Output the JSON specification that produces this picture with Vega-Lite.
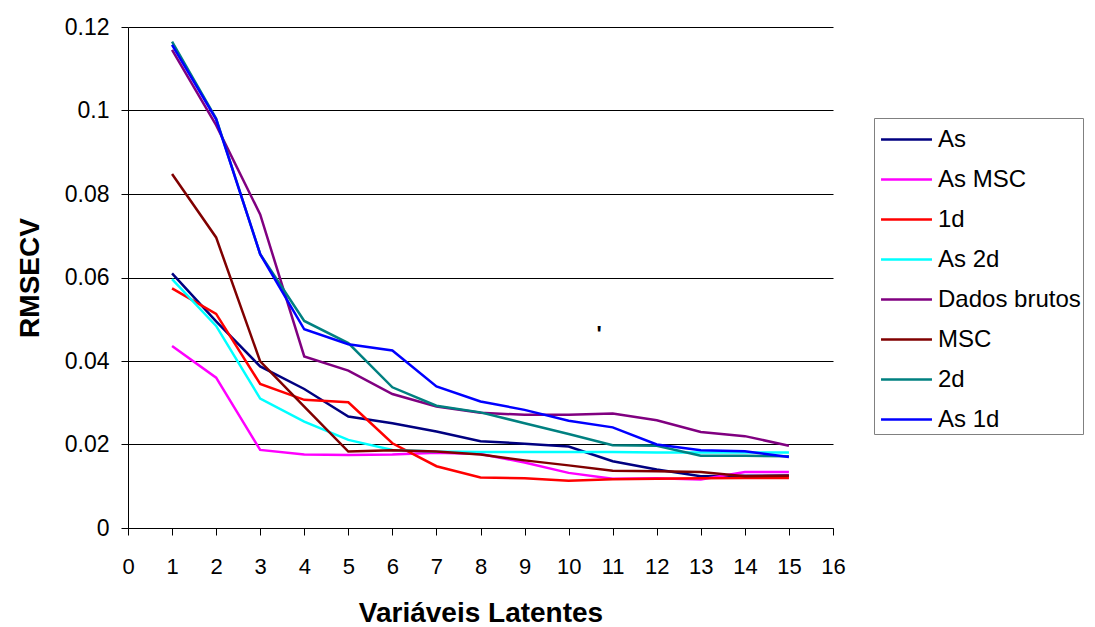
{
  "$schema": "https://vega.github.io/schema/vega-lite/v6.json",
  "autosize": {"type": "none"},
  "width": 705,
  "height": 501,
  "padding": {"left": 128, "top": 27, "right": 262, "bottom": 99},
  "background": "white",
  "config": {
    "view": {"stroke": null},
    "font": "Liberation Sans",
    "axis": {
      "labelFont": "Liberation Sans",
      "labelColor": "black",
      "titleFont": "Liberation Sans",
      "titleColor": "black",
      "titleFontWeight": "bold",
      "domainColor": "black",
      "domainWidth": 1,
      "tickColor": "black",
      "tickWidth": 1,
      "tickSize": 7,
      "gridColor": "black",
      "gridOpacity": 1,
      "gridWidth": 1
    },
    "legend": {
      "orient": "none",
      "legendX": 746,
      "legendY": 91,
      "padding": 2,
      "rowPadding": 8,
      "labelOffset": 12,
      "symbolOffset": 11,
      "symbolType": "M-1.4,0H1.4",
      "symbolSize": 1325,
      "symbolStrokeWidth": 2.5,
      "strokeColor": "#808080",
      "fillColor": "white",
      "labelFont": "Liberation Sans",
      "labelFontSize": 24,
      "labelColor": "black",
      "labelLimit": 400
    }
  },
  "layer": [
    {
      "data": {
        "values": [
          {"x": 1, "s": "As", "v": 0.061}, {"x": 2, "s": "As", "v": 0.0495}, {"x": 3, "s": "As", "v": 0.0387}, {"x": 4, "s": "As", "v": 0.0333}, {"x": 5, "s": "As", "v": 0.0267}, {"x": 6, "s": "As", "v": 0.0251}, {"x": 7, "s": "As", "v": 0.0231}, {"x": 8, "s": "As", "v": 0.0208}, {"x": 9, "s": "As", "v": 0.0202}, {"x": 10, "s": "As", "v": 0.0195}, {"x": 11, "s": "As", "v": 0.016}, {"x": 12, "s": "As", "v": 0.014}, {"x": 13, "s": "As", "v": 0.0124}, {"x": 14, "s": "As", "v": 0.0125}, {"x": 15, "s": "As", "v": 0.0126},
          {"x": 1, "s": "As MSC", "v": 0.0436}, {"x": 2, "s": "As MSC", "v": 0.036}, {"x": 3, "s": "As MSC", "v": 0.0187}, {"x": 4, "s": "As MSC", "v": 0.0176}, {"x": 5, "s": "As MSC", "v": 0.0175}, {"x": 6, "s": "As MSC", "v": 0.0176}, {"x": 7, "s": "As MSC", "v": 0.018}, {"x": 8, "s": "As MSC", "v": 0.0177}, {"x": 9, "s": "As MSC", "v": 0.0157}, {"x": 10, "s": "As MSC", "v": 0.0132}, {"x": 11, "s": "As MSC", "v": 0.0118}, {"x": 12, "s": "As MSC", "v": 0.0119}, {"x": 13, "s": "As MSC", "v": 0.0116}, {"x": 14, "s": "As MSC", "v": 0.0134}, {"x": 15, "s": "As MSC", "v": 0.0134},
          {"x": 1, "s": "1d", "v": 0.0574}, {"x": 2, "s": "1d", "v": 0.0513}, {"x": 3, "s": "1d", "v": 0.0345}, {"x": 4, "s": "1d", "v": 0.0307}, {"x": 5, "s": "1d", "v": 0.0301}, {"x": 6, "s": "1d", "v": 0.0203}, {"x": 7, "s": "1d", "v": 0.0148}, {"x": 8, "s": "1d", "v": 0.0121}, {"x": 9, "s": "1d", "v": 0.0119}, {"x": 10, "s": "1d", "v": 0.0113}, {"x": 11, "s": "1d", "v": 0.0117}, {"x": 12, "s": "1d", "v": 0.0118}, {"x": 13, "s": "1d", "v": 0.0119}, {"x": 14, "s": "1d", "v": 0.012}, {"x": 15, "s": "1d", "v": 0.012},
          {"x": 1, "s": "As 2d", "v": 0.0596}, {"x": 2, "s": "As 2d", "v": 0.0484}, {"x": 3, "s": "As 2d", "v": 0.031}, {"x": 4, "s": "As 2d", "v": 0.0255}, {"x": 5, "s": "As 2d", "v": 0.0211}, {"x": 6, "s": "As 2d", "v": 0.0187}, {"x": 7, "s": "As 2d", "v": 0.0183}, {"x": 8, "s": "As 2d", "v": 0.0182}, {"x": 9, "s": "As 2d", "v": 0.0182}, {"x": 10, "s": "As 2d", "v": 0.0182}, {"x": 11, "s": "As 2d", "v": 0.0182}, {"x": 12, "s": "As 2d", "v": 0.0181}, {"x": 13, "s": "As 2d", "v": 0.0181}, {"x": 14, "s": "As 2d", "v": 0.0181}, {"x": 15, "s": "As 2d", "v": 0.0181},
          {"x": 1, "s": "Dados brutos", "v": 0.1145}, {"x": 2, "s": "Dados brutos", "v": 0.0965}, {"x": 3, "s": "Dados brutos", "v": 0.0751}, {"x": 4, "s": "Dados brutos", "v": 0.0411}, {"x": 5, "s": "Dados brutos", "v": 0.0377}, {"x": 6, "s": "Dados brutos", "v": 0.0321}, {"x": 7, "s": "Dados brutos", "v": 0.0291}, {"x": 8, "s": "Dados brutos", "v": 0.0276}, {"x": 9, "s": "Dados brutos", "v": 0.0271}, {"x": 10, "s": "Dados brutos", "v": 0.0271}, {"x": 11, "s": "Dados brutos", "v": 0.0274}, {"x": 12, "s": "Dados brutos", "v": 0.0258}, {"x": 13, "s": "Dados brutos", "v": 0.023}, {"x": 14, "s": "Dados brutos", "v": 0.022}, {"x": 15, "s": "Dados brutos", "v": 0.0197},
          {"x": 1, "s": "MSC", "v": 0.0848}, {"x": 2, "s": "MSC", "v": 0.0696}, {"x": 3, "s": "MSC", "v": 0.0399}, {"x": 4, "s": "MSC", "v": 0.0291}, {"x": 5, "s": "MSC", "v": 0.0183}, {"x": 6, "s": "MSC", "v": 0.0186}, {"x": 7, "s": "MSC", "v": 0.0183}, {"x": 8, "s": "MSC", "v": 0.0176}, {"x": 9, "s": "MSC", "v": 0.0162}, {"x": 10, "s": "MSC", "v": 0.015}, {"x": 11, "s": "MSC", "v": 0.0137}, {"x": 12, "s": "MSC", "v": 0.0136}, {"x": 13, "s": "MSC", "v": 0.0134}, {"x": 14, "s": "MSC", "v": 0.0124}, {"x": 15, "s": "MSC", "v": 0.0125},
          {"x": 1, "s": "2d", "v": 0.1165}, {"x": 2, "s": "2d", "v": 0.0981}, {"x": 3, "s": "2d", "v": 0.0656}, {"x": 4, "s": "2d", "v": 0.0496}, {"x": 5, "s": "2d", "v": 0.0443}, {"x": 6, "s": "2d", "v": 0.0337}, {"x": 7, "s": "2d", "v": 0.0293}, {"x": 8, "s": "2d", "v": 0.0277}, {"x": 9, "s": "2d", "v": 0.0251}, {"x": 10, "s": "2d", "v": 0.0225}, {"x": 11, "s": "2d", "v": 0.0198}, {"x": 12, "s": "2d", "v": 0.0197}, {"x": 13, "s": "2d", "v": 0.0173}, {"x": 14, "s": "2d", "v": 0.0173}, {"x": 15, "s": "2d", "v": 0.0172},
          {"x": 1, "s": "As 1d", "v": 0.1157}, {"x": 2, "s": "As 1d", "v": 0.0979}, {"x": 3, "s": "As 1d", "v": 0.0656}, {"x": 4, "s": "As 1d", "v": 0.0476}, {"x": 5, "s": "As 1d", "v": 0.044}, {"x": 6, "s": "As 1d", "v": 0.0425}, {"x": 7, "s": "As 1d", "v": 0.0339}, {"x": 8, "s": "As 1d", "v": 0.0303}, {"x": 9, "s": "As 1d", "v": 0.0283}, {"x": 10, "s": "As 1d", "v": 0.0257}, {"x": 11, "s": "As 1d", "v": 0.0241}, {"x": 12, "s": "As 1d", "v": 0.02}, {"x": 13, "s": "As 1d", "v": 0.0186}, {"x": 14, "s": "As 1d", "v": 0.0184}, {"x": 15, "s": "As 1d", "v": 0.017}
        ]
      },
      "mark": {"type": "line", "strokeWidth": 2.5},
      "encoding": {
        "x": {
          "field": "x", "type": "quantitative",
          "scale": {"domain": [0, 16], "nice": false, "zero": false},
          "axis": {
            "title": "Variáveis Latentes",
            "values": [0, 1, 2, 3, 4, 5, 6, 7, 8, 9, 10, 11, 12, 13, 14, 15, 16],
            "grid": false,
            "labelFontSize": 22,
            "labelPadding": 21,
            "titleFontSize": 28,
            "titlePadding": 22,
            "labelFlush": false,
            "labelOverlap": false
          }
        },
        "y": {
          "field": "v", "type": "quantitative",
          "scale": {"domain": [0, 0.12], "nice": false},
          "axis": {
            "title": "RMSECV",
            "values": [0, 0.02, 0.04, 0.06, 0.08, 0.1, 0.12],
            "format": "~g",
            "grid": true,
            "labelFontSize": 23,
            "labelPadding": 12,
            "titleFontSize": 28,
            "titlePadding": 20,
            "labelFlush": false,
            "labelOverlap": false
          }
        },
        "color": {
          "field": "s", "type": "nominal",
          "scale": {
            "domain": ["As", "As MSC", "1d", "As 2d", "Dados brutos", "MSC", "2d", "As 1d"],
            "range": ["#000080", "#FF00FF", "#FF0000", "#00FFFF", "#800080", "#800000", "#008080", "#0000FF"]
          },
          "legend": {"title": null}
        },
        "order": {"field": "x", "type": "quantitative"}
      }
    },
    {
      "data": {"values": [{"x": 10.69, "v": 0.0464, "t": "'"}]},
      "mark": {"type": "text", "fontSize": 22, "fontWeight": "bold", "color": "black", "baseline": "middle", "align": "center"},
      "encoding": {
        "x": {"field": "x", "type": "quantitative"},
        "y": {"field": "v", "type": "quantitative"},
        "text": {"field": "t"}
      }
    }
  ]
}
